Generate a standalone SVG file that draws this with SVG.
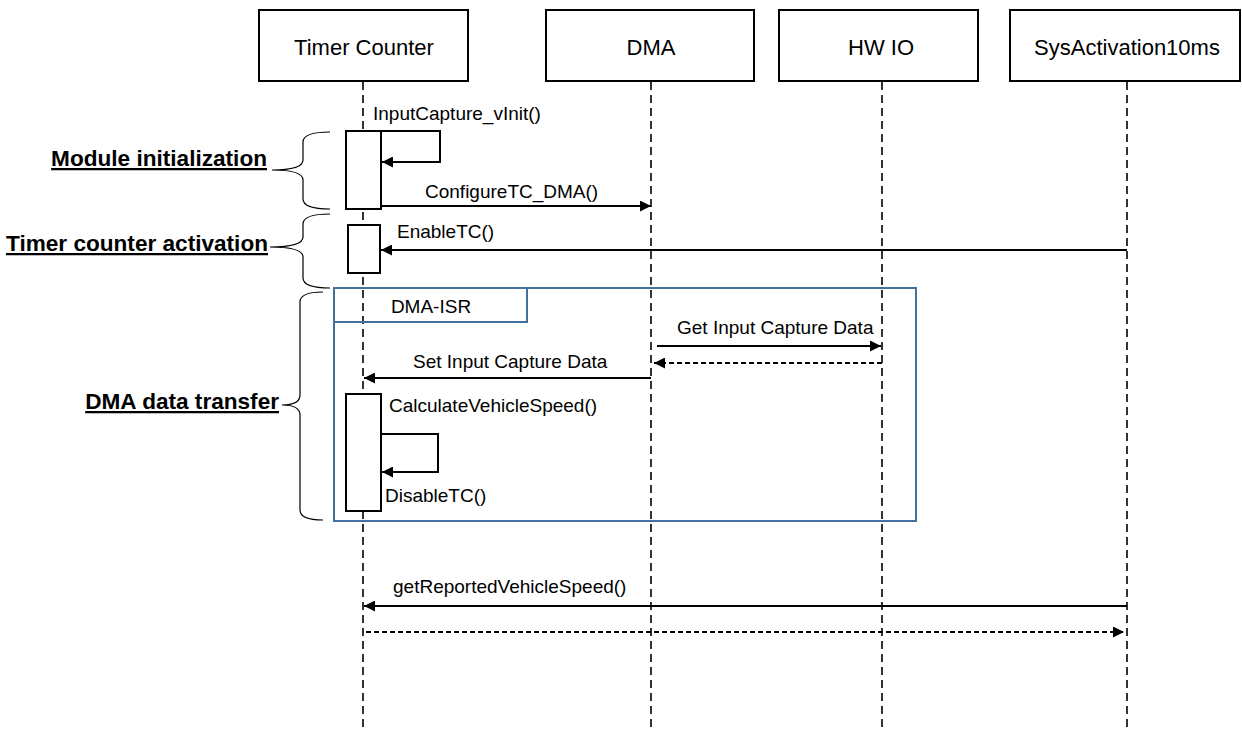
<svg xmlns="http://www.w3.org/2000/svg" width="1242" height="732" viewBox="0 0 1242 732">
<style>
.hdr{fill:#fff;stroke:#000;stroke-width:2}
.ht{font-family:"Liberation Sans",Arial,sans-serif;font-size:22px;fill:#000;text-anchor:middle}
.life{stroke:#000;stroke-width:1.6;stroke-dasharray:8 5;fill:none}
.act{fill:#fff;stroke:#000;stroke-width:2}
.msg{stroke:#000;stroke-width:2;fill:none}
.ret{stroke:#000;stroke-width:1.8;fill:none;stroke-dasharray:5 3}
.ml{font-family:"Liberation Sans",Arial,sans-serif;font-size:19px;fill:#000}
.lbl{font-family:"Liberation Sans",Arial,sans-serif;font-size:22.6px;font-weight:bold;fill:#000;text-anchor:end;text-decoration:underline}
.brace{stroke:#000;stroke-width:1.2;fill:none}
.frame{fill:none;stroke:#41719c;stroke-width:2}
</style>
<defs>
<marker id="ah" viewBox="0 0 10 10" refX="10" refY="5" markerWidth="13" markerHeight="11" markerUnits="userSpaceOnUse" orient="auto">
<path d="M0,0 L10,5 L0,10 Z" fill="#000"/>
</marker>
</defs>
<rect width="1242" height="732" fill="#fff"/>

<g id="lifelines">
<line class="life" x1="363" y1="82" x2="363" y2="732"/>
<line class="life" x1="651" y1="82" x2="651" y2="732"/>
<line class="life" x1="882" y1="82" x2="882" y2="732"/>
<line class="life" x1="1127" y1="82" x2="1127" y2="732"/>
</g>

<g id="timer-counter"><rect class="hdr" x="259" y="10" width="209" height="71"/><text class="ht" x="364" y="55">Timer Counter</text></g>
<g id="dma"><rect class="hdr" x="546" y="10" width="208" height="71"/><text class="ht" x="651" y="55">DMA</text></g>
<g id="hw-io"><rect class="hdr" x="779" y="10" width="199" height="71"/><text class="ht" x="881" y="55">HW IO</text></g>
<g id="sysactivation"><rect class="hdr" x="1010" y="10" width="230" height="71"/><text class="ht" x="1127" y="55">SysActivation10ms</text></g>

<g id="dma-isr-frame">
<rect class="frame" x="334" y="288" width="582" height="233"/>
<rect class="frame" x="334" y="288" width="193" height="34" fill="#fff"/>
<text class="ml" x="431" y="313" text-anchor="middle" font-size="19">DMA-ISR</text>
</g>

<g id="activations">
<rect class="act" x="346" y="131" width="35" height="78"/>
<rect class="act" x="348" y="225" width="32" height="48"/>
<rect class="act" x="346" y="394" width="35" height="117"/>
</g>

<g id="braces">
<path class="brace" d="M330,132 Q303,132 303,142 V160 Q303,170 272,170 Q303,170 303,180 V199 Q303,209 330,209"/>
<path class="brace" d="M330,214 Q303,214 303,224 V237 Q303,247 270,247 Q303,247 303,257 V278 Q303,288 330,288"/>
<path class="brace" d="M323,292 Q300,292 300,302 V395 Q300,405 282,405 Q300,405 300,415 V510 Q300,520 323,520"/>
</g>

<g id="labels">
<text class="lbl" x="267" y="166">Module initialization</text>
<text class="lbl" x="268" y="251">Timer counter activation</text>
<text class="lbl" x="279" y="409">DMA data transfer</text>
</g>

<g id="connectors">
<path class="msg" d="M381,131 H440 V162 H382" marker-end="url(#ah)"/>
<line class="msg" x1="381" y1="206" x2="651" y2="206" marker-end="url(#ah)"/>
<line class="msg" x1="1127" y1="250" x2="381" y2="250" marker-end="url(#ah)"/>
<line class="msg" x1="657" y1="346" x2="881" y2="346" marker-end="url(#ah)"/>
<line class="ret" x1="882" y1="363" x2="654" y2="363" marker-end="url(#ah)"/>
<line class="msg" x1="651" y1="378" x2="364" y2="378" marker-end="url(#ah)"/>
<path class="msg" d="M381,434 H438 V472 H382" marker-end="url(#ah)"/>
<line class="msg" x1="1127" y1="606" x2="364" y2="606" marker-end="url(#ah)"/>
<line class="ret" x1="366" y1="632" x2="1124" y2="632" marker-end="url(#ah)"/>
</g>

<g id="message-labels">
<text class="ml" x="373" y="120">InputCapture_vInit()</text>
<text class="ml" x="425" y="198">ConfigureTC_DMA()</text>
<text class="ml" x="397" y="238">EnableTC()</text>
<text class="ml" x="677" y="334">Get Input Capture Data</text>
<text class="ml" x="413" y="368">Set Input Capture Data</text>
<text class="ml" x="389" y="412">CalculateVehicleSpeed()</text>
<text class="ml" x="385" y="502">DisableTC()</text>
<text class="ml" x="393" y="593">getReportedVehicleSpeed()</text>
</g>
</svg>
